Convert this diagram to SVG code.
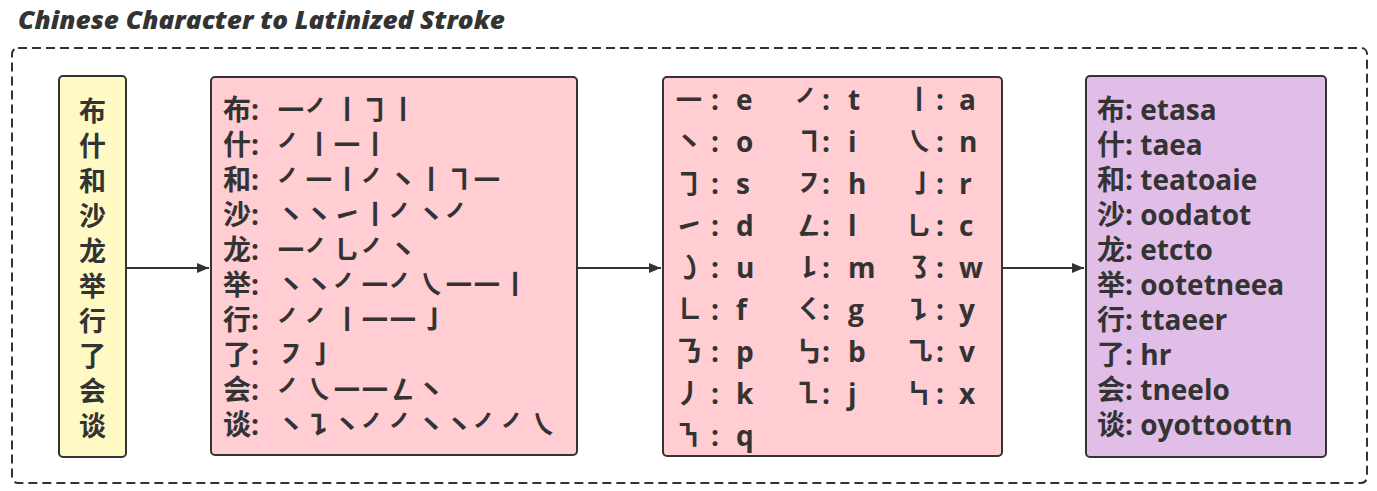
<svg xmlns="http://www.w3.org/2000/svg" width="1377" height="491" viewBox="0 0 1377 491">
<style>
.t{font-family:'Open Sans','Noto Sans CJK SC',sans-serif;font-weight:700;font-size:28px;fill:#333;}
.c{font-family:'Noto Sans CJK SC',sans-serif;font-weight:700;font-size:28px;fill:#333;}
.v{font-family:'Open Sans','Noto Sans CJK SC',sans-serif;font-weight:700;font-size:27px;fill:#333;text-anchor:middle;}
.box{stroke:#333;stroke-width:2;}
.conn{stroke:#333;stroke-width:2;fill:none;}
</style>
<defs>
<marker id="ah" viewBox="0 0 12 10" markerWidth="12" markerHeight="10" markerUnits="userSpaceOnUse" refX="12" refY="5" orient="auto">
<path d="M0,0 L12,5 L0,10 z" fill="#333"/>
</marker>
</defs>
<rect width="1377" height="491" fill="#fff"/>
<text x="18" y="29" font-family="'Open Sans',sans-serif" font-weight="800" font-style="italic" font-size="25" fill="#333" textLength="487" lengthAdjust="spacingAndGlyphs">Chinese Character to Latinized Stroke</text>
<rect id="frame" x="12" y="48" width="1355" height="435" rx="6" fill="none" stroke="#333" stroke-width="2" stroke-dasharray="9 5"/>

<g id="connectors">
<line class="conn" x1="126" y1="268" x2="209" y2="268" marker-end="url(#ah)"/>
<line class="conn" x1="577" y1="268" x2="661" y2="268" marker-end="url(#ah)"/>
<line class="conn" x1="1002" y1="268" x2="1084" y2="268" marker-end="url(#ah)"/>
</g>

<g id="node-sentence">
<rect class="box" x="59" y="76" width="67" height="381" rx="4" fill="#FFF9C4"/>
<text class="v" x="92.5" y="121">布</text>
<text class="v" x="92.5" y="156">什</text>
<text class="v" x="92.5" y="191">和</text>
<text class="v" x="92.5" y="226">沙</text>
<text class="v" x="92.5" y="261">龙</text>
<text class="v" x="92.5" y="296">举</text>
<text class="v" x="92.5" y="331">行</text>
<text class="v" x="92.5" y="366">了</text>
<text class="v" x="92.5" y="401">会</text>
<text class="v" x="92.5" y="436">谈</text>
</g>

<g id="node-strokes">
<rect class="box" x="211" y="77" width="366" height="378" rx="4" fill="#FFCDD2"/>
<text class="t" x="223" y="120">布:<tspan x="277">㇐㇒㇑㇆㇑</tspan></text>
<text class="t" x="223" y="155">什:<tspan x="277">㇒㇑㇐㇑</tspan></text>
<text class="t" x="223" y="190">和:<tspan x="277">㇒㇐㇑㇒㇔㇑㇕㇐</tspan></text>
<text class="t" x="223" y="225">沙:<tspan x="277">㇔㇔㇀㇑㇒㇔㇒</tspan></text>
<text class="t" x="223" y="260">龙:<tspan x="277">㇐㇒㇟㇒㇔</tspan></text>
<text class="t" x="223" y="295">举:<tspan x="277">㇔㇔㇒㇐㇒㇏㇐㇐㇑</tspan></text>
<text class="t" x="223" y="330">行:<tspan x="277">㇒㇒㇑㇐㇐㇚</tspan></text>
<text class="t" x="223" y="365">了:<tspan x="277">㇇㇚</tspan></text>
<text class="t" x="223" y="400">会:<tspan x="277">㇒㇏㇐㇐㇜㇔</tspan></text>
<text class="t" x="223" y="435">谈:<tspan x="277">㇔㇊㇔㇒㇒㇔㇔㇒㇒㇏</tspan></text>
</g>

<g id="node-mapping">
<rect class="box" x="663" y="77" width="339" height="379" rx="4" fill="#FFCDD2"/>
<g class="c" text-anchor="middle">
<text x="689" y="110">㇐</text><text x="809" y="110">㇒</text><text x="919" y="110">㇑</text>
<text x="689" y="152">㇔</text><text x="809" y="152">㇕</text><text x="919" y="152">㇏</text>
<text x="689" y="194">㇆</text><text x="809" y="194">㇇</text><text x="919" y="194">㇚</text>
<text x="689" y="236">㇀</text><text x="809" y="236">㇜</text><text x="919" y="236">㇟</text>
<text x="689" y="278">㇁</text><text x="809" y="278">㇙</text><text x="919" y="278">㇌</text>
<text x="689" y="320">㇗</text><text x="809" y="320">㇛</text><text x="919" y="320">㇊</text>
<text x="689" y="362">㇡</text><text x="809" y="362">㇉</text><text x="919" y="362">㇈</text>
<text x="689" y="404">㇓</text><text x="809" y="404">㇅</text><text x="919" y="404">㇞</text>
<text x="689" y="446">㇎</text>
</g>
<g class="t" text-anchor="middle">
<text x="715" y="110">:</text><text x="826" y="110">:</text><text x="940" y="110">:</text>
<text x="715" y="152">:</text><text x="826" y="152">:</text><text x="940" y="152">:</text>
<text x="715" y="194">:</text><text x="826" y="194">:</text><text x="940" y="194">:</text>
<text x="715" y="236">:</text><text x="826" y="236">:</text><text x="940" y="236">:</text>
<text x="715" y="278">:</text><text x="826" y="278">:</text><text x="940" y="278">:</text>
<text x="715" y="320">:</text><text x="826" y="320">:</text><text x="940" y="320">:</text>
<text x="715" y="362">:</text><text x="826" y="362">:</text><text x="940" y="362">:</text>
<text x="715" y="404">:</text><text x="826" y="404">:</text><text x="940" y="404">:</text>
<text x="715" y="446">:</text>
</g>
<g class="t">
<text x="736" y="110">e</text><text x="848" y="110">t</text><text x="959" y="110">a</text>
<text x="736" y="152">o</text><text x="848" y="152">i</text><text x="959" y="152">n</text>
<text x="736" y="194">s</text><text x="848" y="194">h</text><text x="959" y="194">r</text>
<text x="736" y="236">d</text><text x="848" y="236">l</text><text x="959" y="236">c</text>
<text x="736" y="278">u</text><text x="848" y="278">m</text><text x="959" y="278">w</text>
<text x="736" y="320">f</text><text x="848" y="320">g</text><text x="959" y="320">y</text>
<text x="736" y="362">p</text><text x="848" y="362">b</text><text x="959" y="362">v</text>
<text x="736" y="404">k</text><text x="848" y="404">j</text><text x="959" y="404">x</text>
<text x="736" y="446">q</text>
</g>
</g>

<g id="node-latin">
<rect class="box" x="1086" y="76" width="240" height="381" rx="4" fill="#E1BEE7"/>
<text class="t" x="1097" y="120">布: etasa</text>
<text class="t" x="1097" y="155">什: taea</text>
<text class="t" x="1097" y="190">和: teatoaie</text>
<text class="t" x="1097" y="225">沙: oodatot</text>
<text class="t" x="1097" y="260">龙: etcto</text>
<text class="t" x="1097" y="295">举: ootetneea</text>
<text class="t" x="1097" y="330">行: ttaeer</text>
<text class="t" x="1097" y="365">了: hr</text>
<text class="t" x="1097" y="400">会: tneelo</text>
<text class="t" x="1097" y="435">谈: oyottoottn</text>
</g>
</svg>
